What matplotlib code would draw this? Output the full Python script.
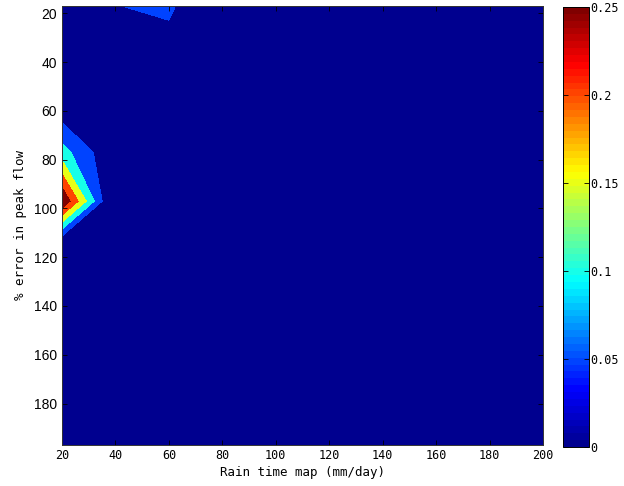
import matplotlib
matplotlib.use("Agg")
import matplotlib.pyplot as plt
import numpy as np
from matplotlib.colors import LinearSegmentedColormap, Normalize
from matplotlib.cm import ScalarMappable

# grid of the surface (x: rain time map, y: % error in peak flow)
rain_x = [20, 40, 60, 80, 100, 120, 140, 160, 180, 200]
error_y = [17, 37, 57, 77, 97, 117, 137, 157, 177, 197]

# values, one row per error_y entry, one column per rain_x entry
z_rows = [
    [0.000, 0.049, 0.057, 0.0, 0.0, 0.0, 0.0, 0.0, 0.0, 0.0],
    [0.000, 0.000, 0.033, 0.0, 0.0, 0.0, 0.0, 0.0, 0.0, 0.0],
    [0.005, 0.000, 0.000, 0.0, 0.0, 0.0, 0.0, 0.0, 0.0, 0.0],
    [0.120, 0.000, 0.000, 0.0, 0.0, 0.0, 0.0, 0.0, 0.0, 0.0],
    [0.300, -0.033, 0.000, 0.0, 0.0, 0.0, 0.0, 0.0, 0.0, 0.0],
    [-0.050, 0.000, 0.000, 0.0, 0.0, 0.0, 0.0, 0.0, 0.0, 0.0],
    [0.000, 0.000, 0.000, 0.0, 0.0, 0.0, 0.0, 0.0, 0.0, 0.0],
    [0.000, 0.000, 0.000, 0.0, 0.0, 0.0, 0.0, 0.0, 0.0, 0.0],
    [0.000, 0.000, 0.000, 0.0, 0.0, 0.0, 0.0, 0.0, 0.0, 0.0],
    [0.000, 0.000, 0.000, 0.0, 0.0, 0.0, 0.0, 0.0, 0.0, 0.0],
]

levels = [0, 0.05, 0.1, 0.15, 0.2, 0.25]
cbar_ticks = [0, 0.05, 0.1, 0.15, 0.2, 0.25]
cbar_labels = ["0", "0.05", "0.1", "0.15", "0.2", "0.25"]
x_ticks = [20, 40, 60, 80, 100, 120, 140, 160, 180, 200]
y_ticks = [20, 40, 60, 80, 100, 120, 140, 160, 180]

# matlab style jet
jet_data = {
    "red": [(0, 0, 0), (0.375, 0, 0), (0.625, 1, 1), (0.875, 1, 1), (1, 0.5, 0.5)],
    "green": [(0, 0, 0), (0.125, 0, 0), (0.375, 1, 1), (0.625, 1, 1), (0.875, 0, 0), (1, 0, 0)],
    "blue": [(0, 0.5625, 0.5625), (0.125, 1, 1), (0.375, 1, 1), (0.625, 0, 0), (1, 0, 0)],
}
mjet = LinearSegmentedColormap("mjet", jet_data, N=64)
vmax = levels[-1]
fill_colors = [mjet(lv / vmax) for lv in levels]

mono = "DejaVu Sans Mono"

fig = plt.figure(figsize=(6.24, 4.86), dpi=100, facecolor="w")
ax = fig.add_axes([62 / 624, 41 / 486, 481 / 624, 439 / 486])

X, Y = np.meshgrid(rain_x, error_y)
Z = np.array(z_rows)
ax.contourf(X, Y, Z, levels=[-1] + levels[1:] + [10], colors=fill_colors)

ax.set_xlim(rain_x[0], rain_x[-1])
ax.set_ylim(error_y[-1], error_y[0])
ax.set_xticks(x_ticks)
ax.set_yticks(y_ticks)
ax.set_xticklabels([str(t) for t in x_ticks], family=mono, fontsize=8.5)
ax.set_yticklabels([str(t) for t in y_ticks], family="Liberation Sans", fontsize=10)
ax.tick_params(direction="in", top=True, right=True, length=3.5, width=0.6, color="k")
ax.tick_params(axis="x", pad=3)
for s in ax.spines.values():
    s.set_linewidth(0.7)
    s.set_color("#333333")
ax.set_xlabel("Rain time map (mm/day)", family=mono, fontsize=9, labelpad=3)
ax.set_ylabel("% error in peak flow", family=mono, fontsize=9, labelpad=5)

# colorbar
cax = fig.add_axes([563 / 624, 39 / 486, 26 / 624, 440 / 486])
sm = ScalarMappable(norm=Normalize(0, vmax), cmap=mjet)
cb = fig.colorbar(sm, cax=cax, ticks=cbar_ticks)
cb.ax.set_yticklabels(cbar_labels, family=mono, fontsize=8.5)
cb.ax.tick_params(direction="in", left=True, right=True, length=3.5, width=0.6, pad=1)
cb.outline.set_linewidth(0.7)

fig.savefig("out.png", dpi=100, facecolor="w")
